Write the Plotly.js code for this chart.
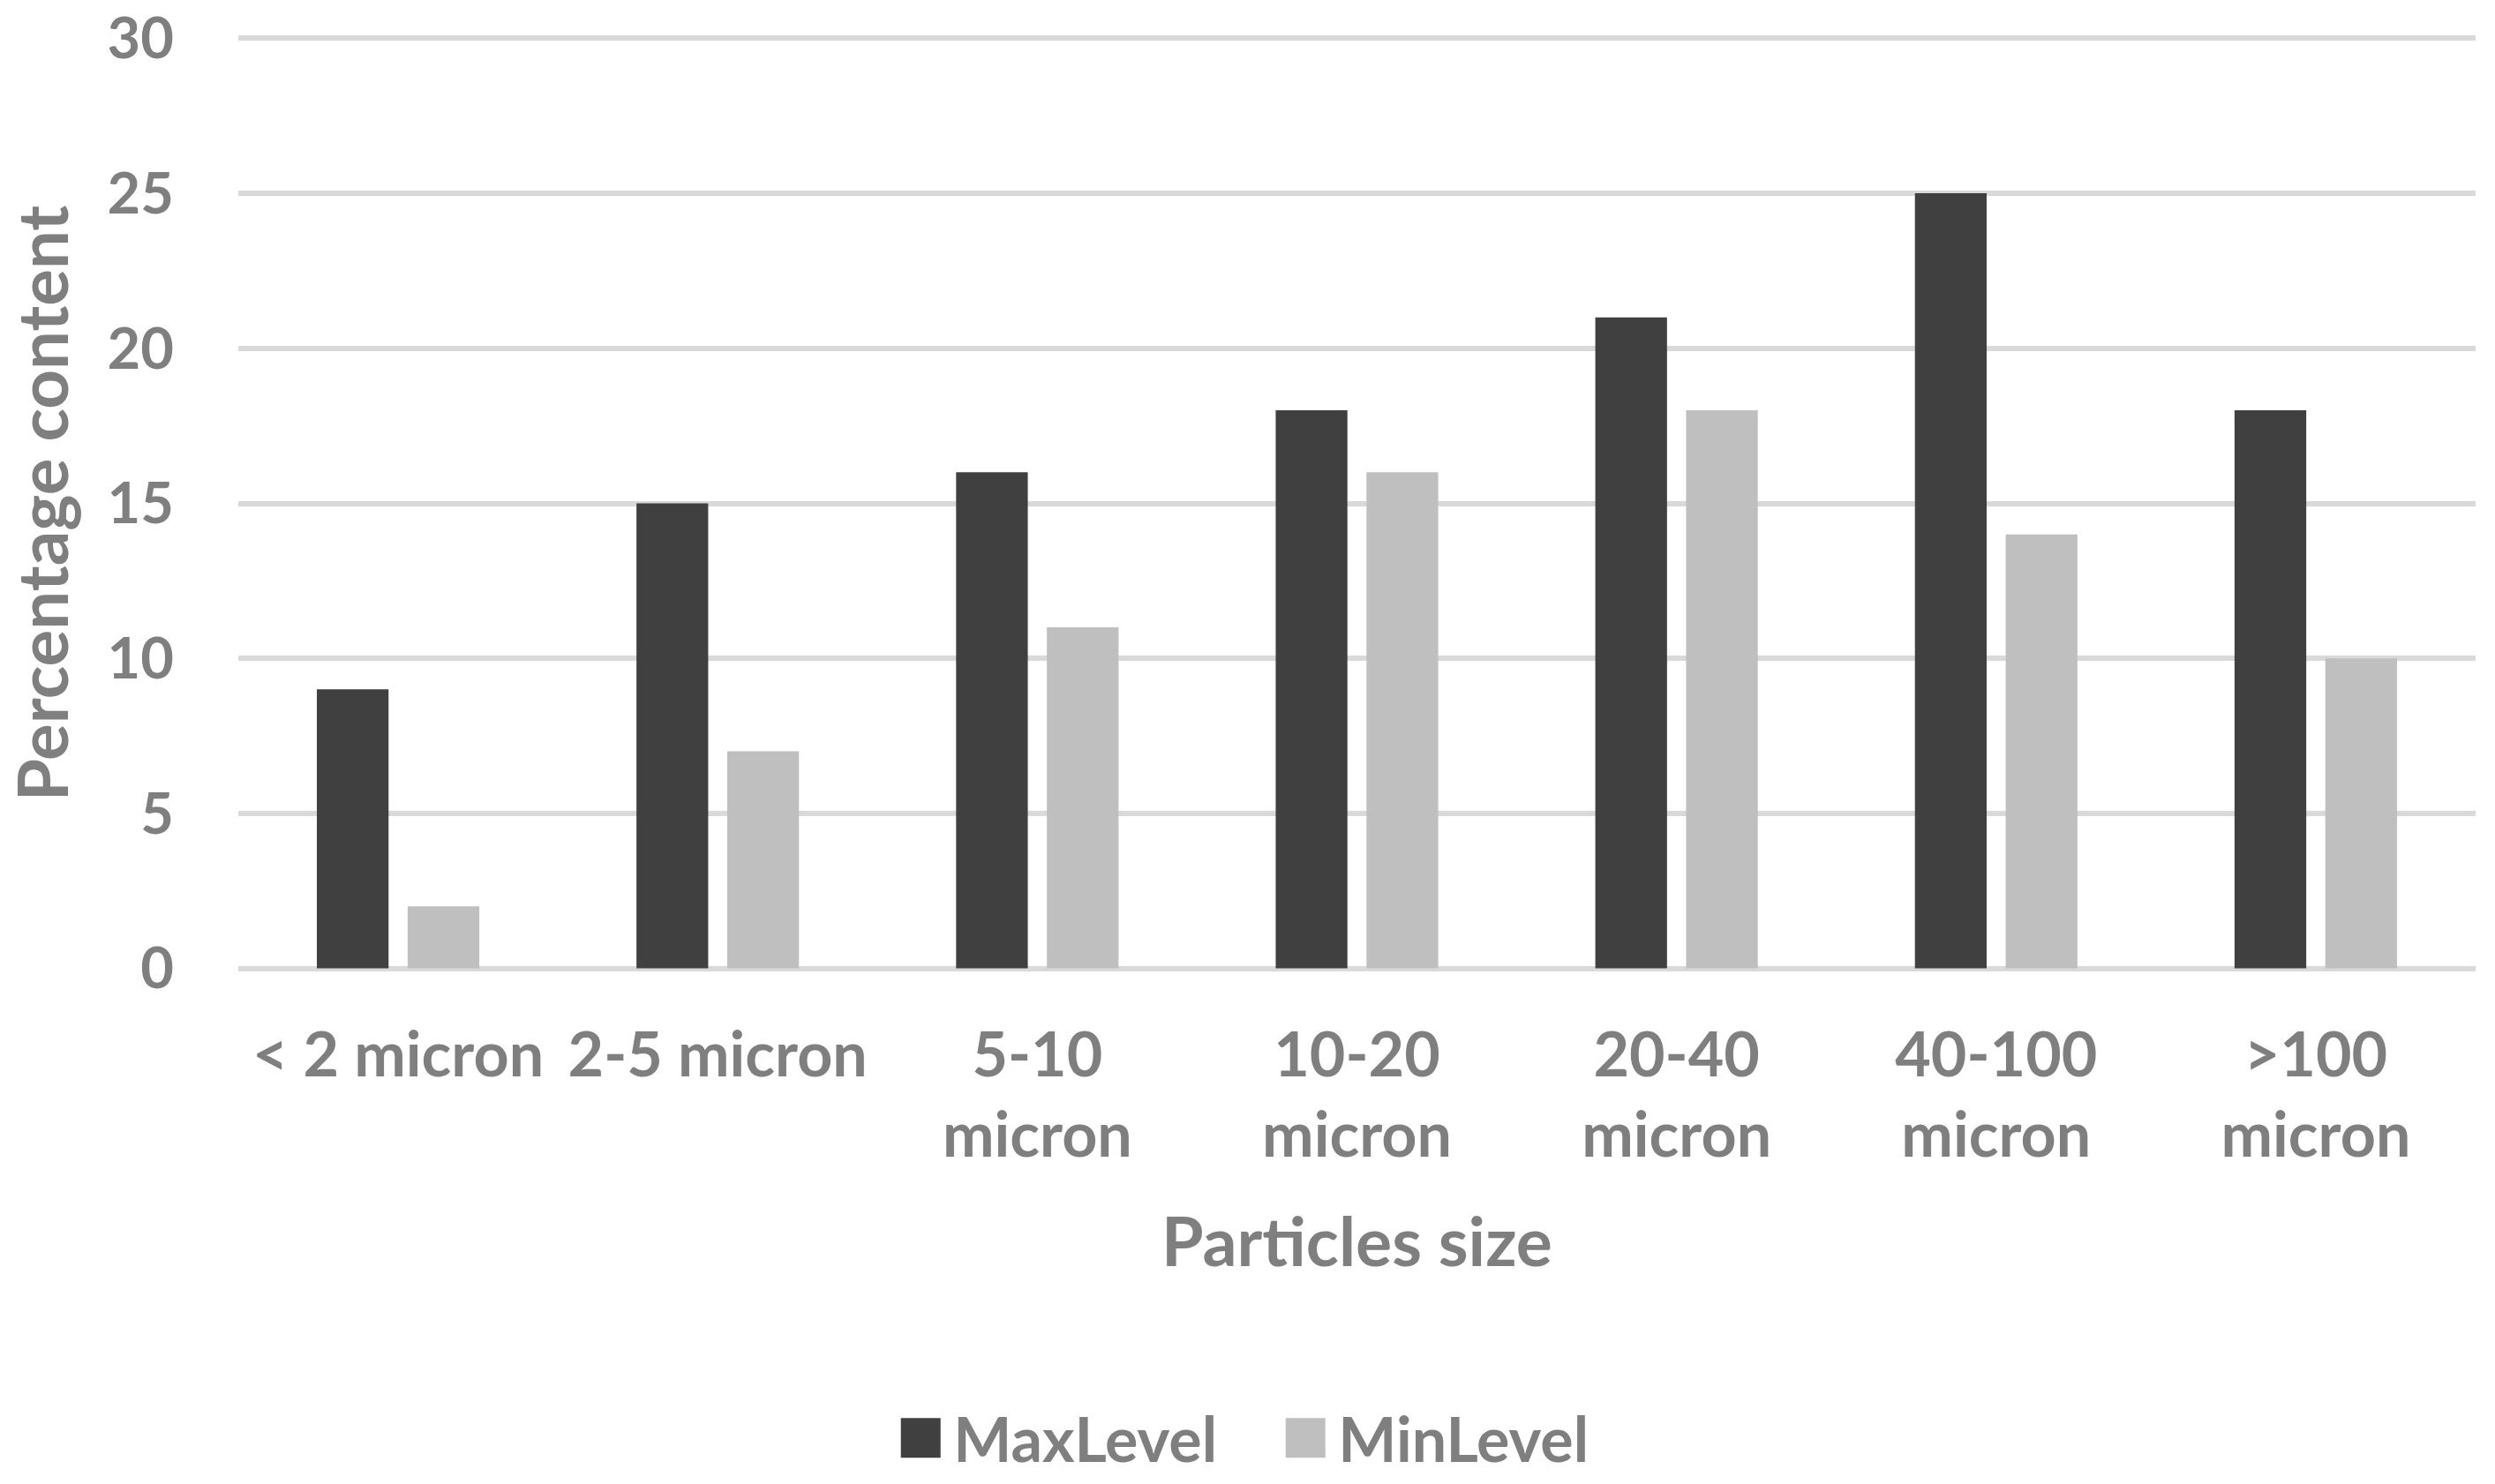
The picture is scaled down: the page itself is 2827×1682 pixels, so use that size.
<!DOCTYPE html>
<html>
<head>
<meta charset="utf-8">
<script src="https://cdn.plot.ly/plotly-3.0.1.min.js"></script>
<style>
html,body{margin:0;padding:0;background:#fff;}
#chart{width:2827px;height:1682px;}
.legendpoints path{transform:translate(53px,0px) scale(3.75);}
</style>
</head>
<body>
<div id="chart"></div>
<script>
var categories = ["&lt; 2 micron", "2-5 micron", "5-10<br>micron", "10-20<br>micron", "20-40<br>micron", "40-100<br>micron", "&gt;100<br>micron"];
var maxLevel = [9, 15, 16, 18, 21, 25, 18];
var minLevel = [2, 7, 11, 16, 18, 14, 10];
var yTicks = [0, 5, 10, 15, 20, 25, 30];

var fontFam = "Lato, 'Open Sans', sans-serif";
var gray = "#7f7f7f";

var traces = [
  {type: "bar", name: "MaxLevel", x: categories, y: maxLevel, marker: {color: "#404040"}, hoverinfo: "none"},
  {type: "bar", name: "MinLevel", x: categories, y: minLevel, marker: {color: "#bfbfbf"}, hoverinfo: "none"}
];

var layout = {
  width: 2827, height: 1682,
  paper_bgcolor: "#ffffff", plot_bgcolor: "#ffffff",
  margin: {l: 270, r: 22, t: 42, b: 583},
  barmode: "group",
  bargap: 0.432,
  bargroupgap: 0.21,
  showlegend: true,
  legend: {
    orientation: "h",
    xref: "container", yref: "container",
    x: 0.5045, xanchor: "center",
    y: 0.031, yanchor: "middle",
    font: {family: fontFam, size: 70, color: gray, weight: "bold"},
    itemwidth: 80,
    entrywidth: 341,
    entrywidthmode: "pixels",
    traceorder: "normal"
  },
  xaxis: {
    type: "category",
    tickfont: {family: fontFam, size: 70, color: gray, weight: "bold"},
    ticks: "", showline: false, showgrid: false, zeroline: false,
    ticklabelstandoff: 50,
    title: {text: "Particles size", font: {family: fontFam, size: 77, color: gray, weight: "bold"}, standoff: 56}
  },
  yaxis: {
    range: [-0.04, 30.04],
    tickvals: yTicks,
    ticktext: yTicks.map(String),
    tickfont: {family: fontFam, size: 65, color: gray, weight: "bold"},
    ticklabeloverflow: "allow",
    ticks: "", showline: false,
    showgrid: true, gridcolor: "#d9d9d9", gridwidth: 6,
    zeroline: false,
    ticklabelstandoff: 72,
    title: {text: "Percentage content", font: {family: fontFam, size: 78, color: gray, weight: "bold"}, standoff: 50}
  }
};

Plotly.newPlot("chart", traces, layout, {displayModeBar: false, staticPlot: true});
</script>
</body>
</html>
